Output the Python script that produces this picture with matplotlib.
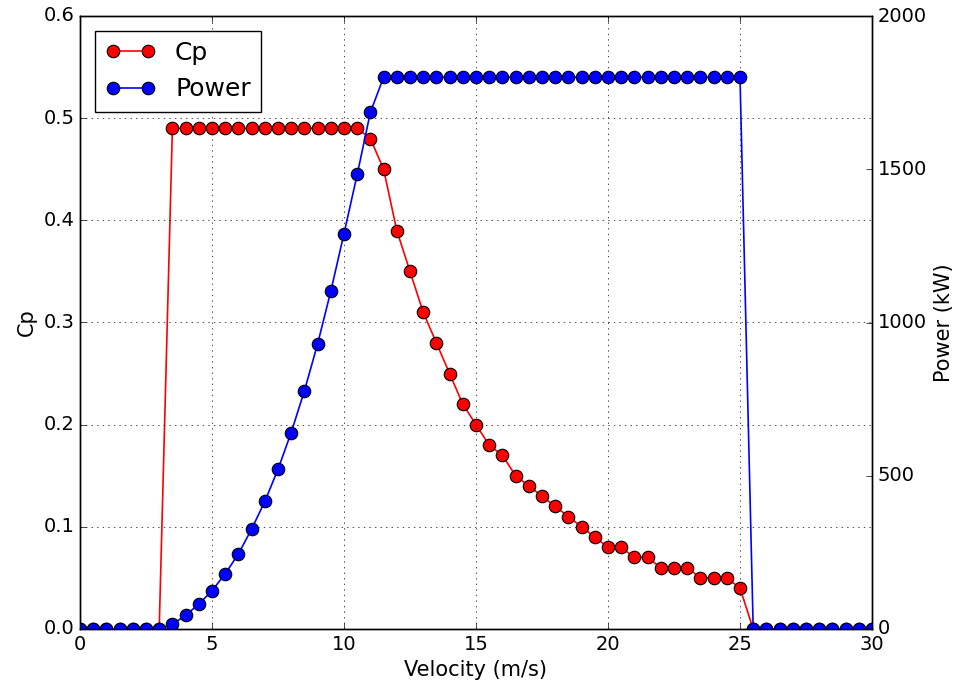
import matplotlib
matplotlib.use("Agg")
import matplotlib.pyplot as plt

plt.style.use("classic")
plt.rcParams["font.family"] = ["DejaVu Sans"]
plt.rcParams["font.size"] = 14

velocity = [i * 0.5 for i in range(61)]

cp = ([0.0] * 7
      + [0.49] * 15
      + [0.48, 0.45, 0.39, 0.35, 0.31, 0.28, 0.25, 0.22, 0.20, 0.18, 0.17,
         0.15, 0.14, 0.13, 0.12, 0.11, 0.10, 0.09, 0.08, 0.08, 0.07, 0.07,
         0.06, 0.06, 0.06, 0.05, 0.05, 0.05, 0.04]
      + [0.0] * 10)

power = ([0] * 7
         + [15, 45, 81, 125, 180, 245, 326, 416, 521, 641, 777, 930, 1102,
            1290, 1483, 1686]
         + [1800] * 28
         + [0] * 10)

fig = plt.figure(figsize=(9.61, 6.92), dpi=100)
ax = fig.add_axes([80 / 961, 1 - 629 / 692, 792 / 961, 613 / 692])
ax2 = ax.twinx()

l1, = ax.plot(velocity, cp, "r-", marker="o", markersize=9, linewidth=1.2,
              markeredgecolor="black", markeredgewidth=0.8, label="Cp")
l2, = ax2.plot(velocity, power, "b-", marker="o", markersize=9, linewidth=1.2,
               markeredgecolor="black", markeredgewidth=0.8, label="Power")

ax.set_xlim(0, 30)
ax.set_ylim(0, 0.6)
ax2.set_ylim(0, 2000)
ax.set_xlabel("Velocity (m/s)", fontsize=15)
ax.set_ylabel("Cp", fontsize=15)
ax2.set_ylabel("Power (kW)", fontsize=15)
ax.grid(True, color="black", linestyle=":")

ax.legend([l1, l2], ["Cp", "Power"], loc="upper left", numpoints=2,
          fontsize=18, borderaxespad=0.6)

fig.savefig("out.png", dpi=100)
